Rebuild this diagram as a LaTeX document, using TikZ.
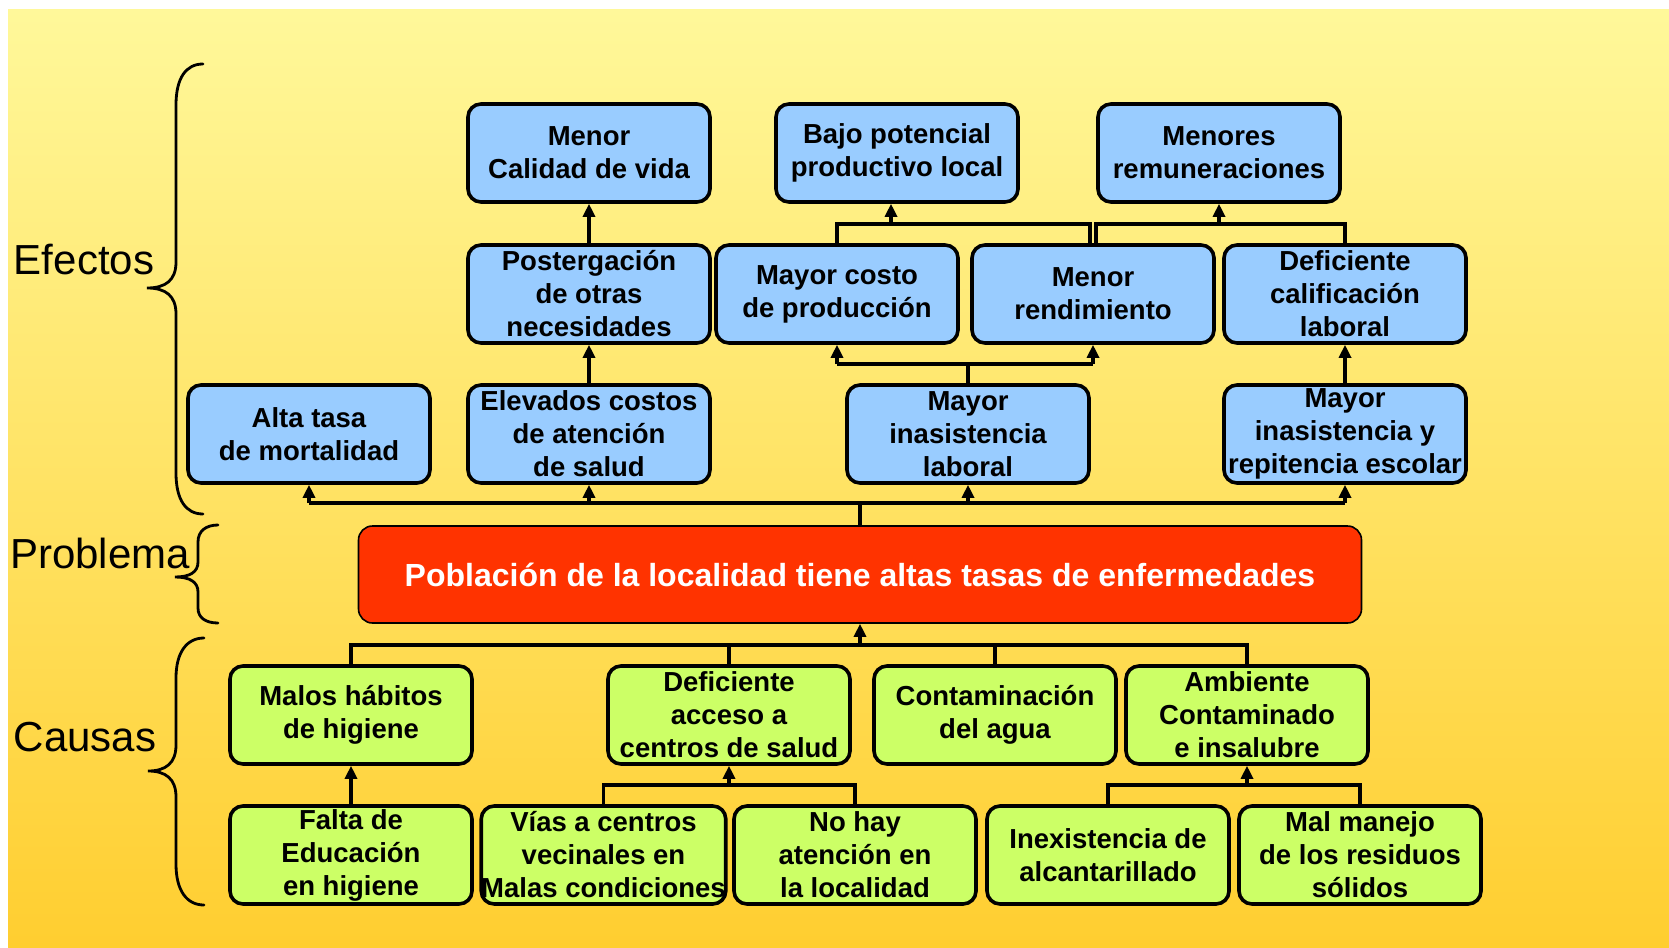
\documentclass[tikz,border=0pt]{standalone}
\usepackage{fontspec}
\setmainfont{Liberation Sans}
\usetikzlibrary{arrows.meta}
\definecolor{bluebox}{HTML}{99CCFF}
\definecolor{greenbox}{HTML}{CCFF66}
\definecolor{redbox}{HTML}{FF3300}
\definecolor{bgtop}{HTML}{FFF89A}
\definecolor{bgbot}{HTML}{FFCE30}
\tikzset{
  box/.style={draw=black, line width=3.6pt, rounded corners=13pt, minimum width=242pt,
    minimum height=98pt, inner sep=0pt, align=center,
    font=\fontsize{27.5}{33}\selectfont\bfseries},
  effect/.style={box, fill=bluebox},
  cause/.style={box, fill=greenbox},
  problembox/.style={draw=black, line width=1.6pt, rounded corners=14pt, fill=redbox,
    minimum width=1003pt, minimum height=97pt, inner sep=0pt, text=white,
    font=\fontsize{32}{38}\selectfont\bfseries},
  conn/.style={line width=3.2pt},
  arr/.style={line width=3.2pt, -{Triangle[length=13pt,width=12pt]}},
  brace/.style={line width=2.8pt, line cap=round},
  sidelabel/.style={font=\fontsize{42}{48}\selectfont, inner sep=0pt}
}
\begin{document}
\begin{tikzpicture}[x=1pt,y=-1pt]
\useasboundingbox (0,0) rectangle (1669,947);
\fill[white] (0,0) rectangle (1669,947);
\shade[top color=bgtop, bottom color=bgbot] (8,10) rectangle (1669,947);

% Effects row A
\node[effect] (calidad) at (589,153) {Menor\\Calidad de vida};
\node[effect] (potencial) at (897,153) {Bajo potencial\\productivo local};
\node[effect] (remun) at (1219,153) {Menores\\remuneraciones};
% Row B
\node[effect] (poster) at (589,294) {Postergación\\de otras\\necesidades};
\node[effect] (costo) at (837,294) {Mayor costo\\de producción};
\node[effect] (rend) at (1093,294) {Menor\\rendimiento};
\node[effect] (calif) at (1345,294) {Deficiente\\calificación\\laboral};
% Row C
\node[effect] (mort) at (309,434) {Alta tasa\\de mortalidad};
\node[effect] (elev) at (589,434) {Elevados costos\\de atención\\de salud};
\node[effect] (inlab) at (968,434) {Mayor\\inasistencia\\laboral};
\node[effect] (inesc) at (1345,434) {Mayor\\inasistencia y\\repitencia escolar};

% Problem
\node[problembox] (prob) at (860,574.5) {Población de la localidad tiene altas tasas de enfermedades};

% Causes row D
\node[cause] (malos) at (351,715) {Malos hábitos\\de higiene};
\node[cause] (acceso) at (729,715) {Deficiente\\acceso a\\centros de salud};
\node[cause] (agua) at (995,715) {Contaminación\\del agua};
\node[cause] (amb) at (1247,715) {Ambiente\\Contaminado\\e insalubre};
% Row E
\node[cause] (falta) at (351,855) {Falta de\\Educación\\en higiene};
\node[cause] (vias) at (603.5,855) {Vías a centros\\vecinales en\\Malas condiciones};
\node[cause] (nohay) at (855,855) {No hay\\atención en\\la localidad};
\node[cause] (inex) at (1108,855) {Inexistencia de\\alcantarillado};
\node[cause] (manejo) at (1360,855) {Mal manejo\\de los residuos\\sólidos};

% bus coordinates
\coordinate (eb) at (860,503);
\coordinate (cb) at (860,645);
\coordinate (cbus) at (860,364);
\coordinate (abus) at (860,224);
\coordinate (sb) at (860,785);

% Effects bus
\draw[conn] (prob.north) -- (eb);
\draw[conn] (mort.south |- eb) -- (inesc.south |- eb);
\draw[arr] (mort.south |- eb) -- (mort.south);
\draw[arr] (elev.south |- eb) -- (elev.south);
\draw[arr] (inlab.south |- eb) -- (inlab.south);
\draw[arr] (inesc.south |- eb) -- (inesc.south);

% Row C to B
\draw[arr] (elev.north) -- (poster.south);
\draw[arr] (poster.north) -- (calidad.south);
\draw[conn] (inlab.north) -- (inlab.north |- cbus);
\draw[conn] (costo.south |- cbus) -- (rend.south |- cbus);
\draw[arr] (costo.south |- cbus) -- (costo.south);
\draw[arr] (rend.south |- cbus) -- (rend.south);
\draw[arr] (inesc.north) -- (calif.south);

% Row B to A
\coordinate (rendL) at ([xshift=-3pt]rend.north);
\coordinate (rendR) at ([xshift=3pt]rend.north);
\coordinate (potin) at ([xshift=-6pt]potencial.south);
\draw[conn] (costo.north) -- (costo.north |- abus) -- (rendL |- abus) -- (rendL);
\draw[arr] (potin |- abus) -- (potin);
\draw[conn] (rendR) -- (rendR |- abus) -- (calif.north |- abus) -- (calif.north);
\draw[arr] (remun.south |- abus) -- (remun.south);

% Causes bus
\draw[arr] (cb) -- (prob.south);
\draw[conn] (malos.north) -- (malos.north |- cb) -- (amb.north |- cb) -- (amb.north);
\draw[conn] (acceso.north) -- (acceso.north |- cb);
\draw[conn] (agua.north) -- (agua.north |- cb);

% Row E to D
\draw[arr] (falta.north) -- (malos.south);
\draw[conn] (vias.north) -- (vias.north |- sb) -- (nohay.north |- sb) -- (nohay.north);
\draw[arr] (acceso.south |- sb) -- (acceso.south);
\draw[conn] (inex.north) -- (inex.north |- sb) -- (manejo.north |- sb) -- (manejo.north);
\draw[arr] (amb.south |- sb) -- (amb.south);

% Braces
\draw[brace] (203,64) .. controls (186,64) and (176,78) .. (176,105)
  -- (176,262) .. controls (176,280) and (166,288) .. (147,288)
  .. controls (166,288) and (176,296) .. (176,314)
  -- (176,473) .. controls (176,500) and (186,514) .. (203,514);
\draw[brace] (218,525) .. controls (206,525) and (198,531) .. (198,542)
  -- (198,562) .. controls (198,572) and (190,577) .. (175,577)
  .. controls (190,577) and (198,582) .. (198,592)
  -- (198,608) .. controls (198,618) and (206,623) .. (218,623);
\draw[brace] (204,638) .. controls (187,638) and (176,652) .. (176,678)
  -- (176,745) .. controls (176,763) and (166,771) .. (148,771)
  .. controls (166,771) and (176,779) .. (176,797)
  -- (176,864) .. controls (176,891) and (187,905) .. (204,905);

% Side labels
\node[sidelabel] (efectos) at (84,260) {Efectos};
\node[sidelabel] (problema) at (100,553) {Problema};
\node[sidelabel] (causas) at (85,737) {Causas};
\end{tikzpicture}
\end{document}
